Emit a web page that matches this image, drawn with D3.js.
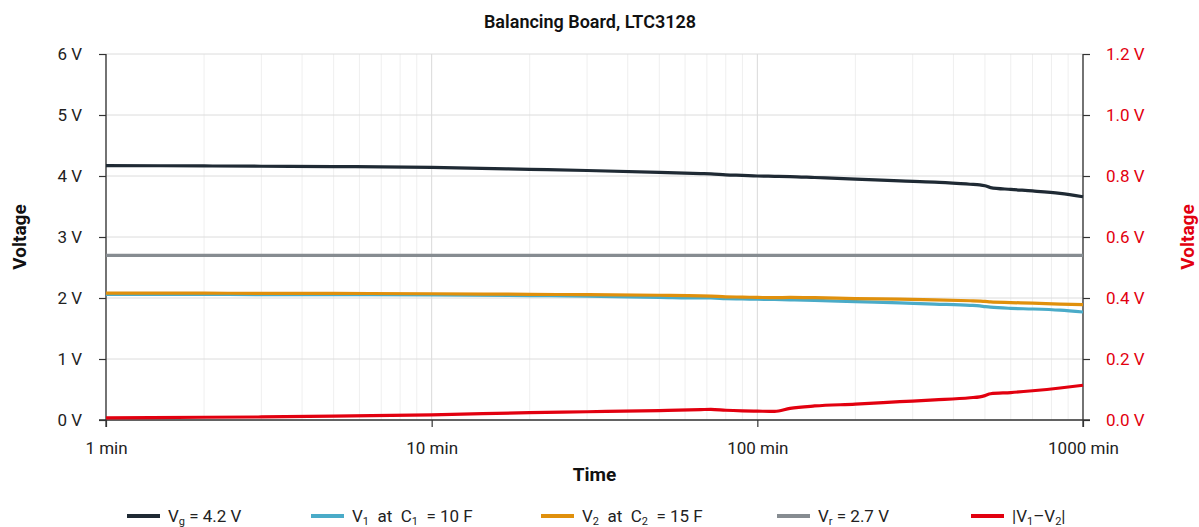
<!DOCTYPE html>
<html>
<head>
<meta charset="utf-8">
<script src="https://cdn.jsdelivr.net/npm/d3@7"></script>
<style>
  body { margin:0; background:#fff; }
  text { font-family: Roboto, "Open Sans", sans-serif; }
</style>
</head>
<body>
<script>
var width = 1199, height = 527;
var margin = {left:106, right:116, top:54, bottom:107};

// time in minutes
var minutes = [1, 2, 3, 5, 10, 20, 30, 50, 67, 72, 80, 90, 100, 113, 126, 150, 200, 274, 350, 450, 482, 500, 520, 600, 700, 850, 1000];
var vg   = [4.17, 4.165, 4.16, 4.155, 4.14, 4.11, 4.09, 4.06, 4.04, 4.035, 4.02, 4.01, 4.00, 3.995, 3.99, 3.975, 3.95, 3.92, 3.90, 3.865, 3.855, 3.84, 3.81, 3.78, 3.755, 3.715, 3.66];
var v1   = [2.06, 2.06, 2.055, 2.055, 2.05, 2.04, 2.03, 2.01, 2.00, 2.00, 1.99, 1.985, 1.98, 1.975, 1.97, 1.96, 1.94, 1.92, 1.90, 1.88, 1.87, 1.86, 1.85, 1.83, 1.82, 1.80, 1.77];
var v2   = [2.08, 2.08, 2.075, 2.075, 2.07, 2.06, 2.055, 2.045, 2.035, 2.03, 2.02, 2.015, 2.01, 2.005, 2.01, 2.005, 1.99, 1.98, 1.97, 1.955, 1.95, 1.945, 1.935, 1.925, 1.915, 1.90, 1.89];
var vr   = [2.7, 2.7, 2.7, 2.7, 2.7, 2.7, 2.7, 2.7, 2.7, 2.7, 2.7, 2.7, 2.7, 2.7, 2.7, 2.7, 2.7, 2.7, 2.7, 2.7, 2.7, 2.7, 2.7, 2.7, 2.7, 2.7, 2.7];
var diff = [0.007, 0.009, 0.010, 0.013, 0.017, 0.024, 0.027, 0.031, 0.034, 0.035, 0.032, 0.030, 0.029, 0.028, 0.038, 0.046, 0.052, 0.060, 0.066, 0.073, 0.076, 0.080, 0.086, 0.090, 0.096, 0.105, 0.114];

var leftTicks = [0, 1, 2, 3, 4, 5, 6];
var rightTicks = [0, 0.2, 0.4, 0.6, 0.8, 1.0, 1.2];
var timeTicks = [1, 10, 100, 1000];

var seriesNames = ["Vg", "V1", "V2", "Vr", "diff"];
var seriesColors = ["#1f2a34", "#4aabc8", "#e0900c", "#868c91", "#e2000f"];

var svg = d3.select("body").append("svg").attr("width", width).attr("height", height);

var w = width - margin.left - margin.right;
var h = height - margin.top - margin.bottom;

var x = d3.scaleLog().domain([1, 1000]).range([0, w]);
var yL = d3.scaleLinear().domain([0, 6]).range([h, 0]);
var yR = d3.scaleLinear().domain([0, 1.2]).range([h, 0]);

var g = svg.append("g").attr("transform", "translate(" + margin.left + "," + margin.top + ")");

// vertical grid (minor + major)
var minor = [];
for (var d = 1; d < 1000; d *= 10) {
  for (var k = 1; k < 10; k++) minor.push(d * k);
}
minor.push(1000);
g.selectAll(".vgrid").data(minor).enter().append("line")
  .attr("x1", function(d){ return x(d); }).attr("x2", function(d){ return x(d); })
  .attr("y1", 0).attr("y2", h)
  .attr("stroke", function(d){ return timeTicks.indexOf(d) >= 0 ? "#d9d9d9" : "#efefef"; })
  .attr("stroke-width", 1);

// horizontal grid
g.selectAll(".hgrid").data(leftTicks).enter().append("line")
  .attr("x1", 0).attr("x2", w)
  .attr("y1", function(d){ return yL(d); }).attr("y2", function(d){ return yL(d); })
  .attr("stroke", "#dcdcdc").attr("stroke-width", 1);

// axes
var leftAxis = d3.axisLeft(yL).tickValues(leftTicks).tickSize(7).tickPadding(17)
  .tickFormat(function(d){ return d + " V"; });
var rightAxis = d3.axisRight(yR).tickValues(rightTicks).tickSize(7).tickPadding(16)
  .tickFormat(function(d){ return d3.format(".1f")(d) + " V"; });
var bottomAxis = d3.axisBottom(x).tickValues(timeTicks).tickSize(7).tickPadding(15)
  .tickFormat(function(d){ return d + " min"; });

function styleAxis(sel, col) {
  sel.select(".domain").attr("stroke", "#333").attr("stroke-width", 1.3);
  sel.selectAll(".tick line").attr("stroke", "#333").attr("stroke-width", 1.2);
  sel.selectAll(".tick text").attr("fill", col).style("font-size", "17px")
    .style("font-family", "Roboto, sans-serif");
}

var ga = g.append("g").call(leftAxis);
styleAxis(ga, "#222");
ga.select(".domain").attr("d", "M0,0V" + (h + 7));

var gr = g.append("g").attr("transform", "translate(" + w + ",0)").call(rightAxis);
styleAxis(gr, "#e2000f");
gr.select(".domain").attr("d", "M0,0V" + (h + 7));

var gb = g.append("g").attr("transform", "translate(0," + h + ")").call(bottomAxis);
styleAxis(gb, "#222");
gb.select(".domain").attr("d", "M-7,0H" + (w + 7));

// lines
var series = [vg, v1, v2, vr, diff];
series.forEach(function(vals, i) {
  var yy = (i === 4) ? yR : yL;
  var pts = minutes.map(function(m, j){ return [m, vals[j]]; });
  var line = d3.line().x(function(p){ return x(p[0]); }).y(function(p){ return yy(p[1]); })
    .curve(d3.curveMonotoneX);
  g.append("path").attr("d", line(pts))
    .attr("fill", "none").attr("stroke", seriesColors[i])
    .attr("stroke-width", 3.2).attr("stroke-linejoin", "round");
});

// title & axis labels
svg.append("text").attr("x", 590).attr("y", 28).attr("text-anchor", "middle")
  .style("font-size", "18px").style("font-weight", "600").attr("fill", "#111")
  .text("Balancing Board, LTC3128");

svg.append("text").attr("x", margin.left + w / 2).attr("y", 481).attr("text-anchor", "middle")
  .style("font-size", "19px").style("font-weight", "bold").attr("fill", "#111")
  .text("Time");

svg.append("text").attr("transform", "translate(26," + (margin.top + h / 2) + ") rotate(-90)")
  .attr("text-anchor", "middle").style("font-size", "19px").style("font-weight", "bold")
  .attr("fill", "#111").text("Voltage");

svg.append("text").attr("transform", "translate(1194," + (margin.top + h / 2) + ") rotate(-90)")
  .attr("text-anchor", "middle").style("font-size", "19px").style("font-weight", "bold")
  .attr("fill", "#e2000f").text("Voltage");

// legend
var legendX = [127, 311, 541, 777, 971];
var legendLabels = [
  [["V", ""], ["g", "sub"], [" = 4.2 V", ""]],
  [["V", ""], ["1", "sub"], ["  at  C", ""], ["1", "sub"], ["  = 10 F", ""]],
  [["V", ""], ["2", "sub"], ["  at  C", ""], ["2", "sub"], ["  = 15 F", ""]],
  [["V", ""], ["r", "sub"], [" = 2.7 V", ""]],
  [["|V", ""], ["1", "sub"], ["\u2013V", ""], ["2", "sub"], ["|", ""]]
];
var lg = svg.append("g").attr("transform", "translate(0,516)");
legendX.forEach(function(lx, i) {
  lg.append("line").attr("x1", lx).attr("x2", lx + 33).attr("y1", 0).attr("y2", 0)
    .attr("stroke", seriesColors[i]).attr("stroke-width", 4);
  var t = lg.append("text").attr("x", lx + 41).attr("y", 6).style("font-size", "17px")
    .style("white-space", "pre").attr("fill", "#222");
  legendLabels[i].forEach(function(part) {
    var ts = t.append("tspan").text(part[0]);
    if (part[1] === "sub") ts.attr("baseline-shift", "-25%").style("font-size", "11px");
  });
});
</script>
</body>
</html>
